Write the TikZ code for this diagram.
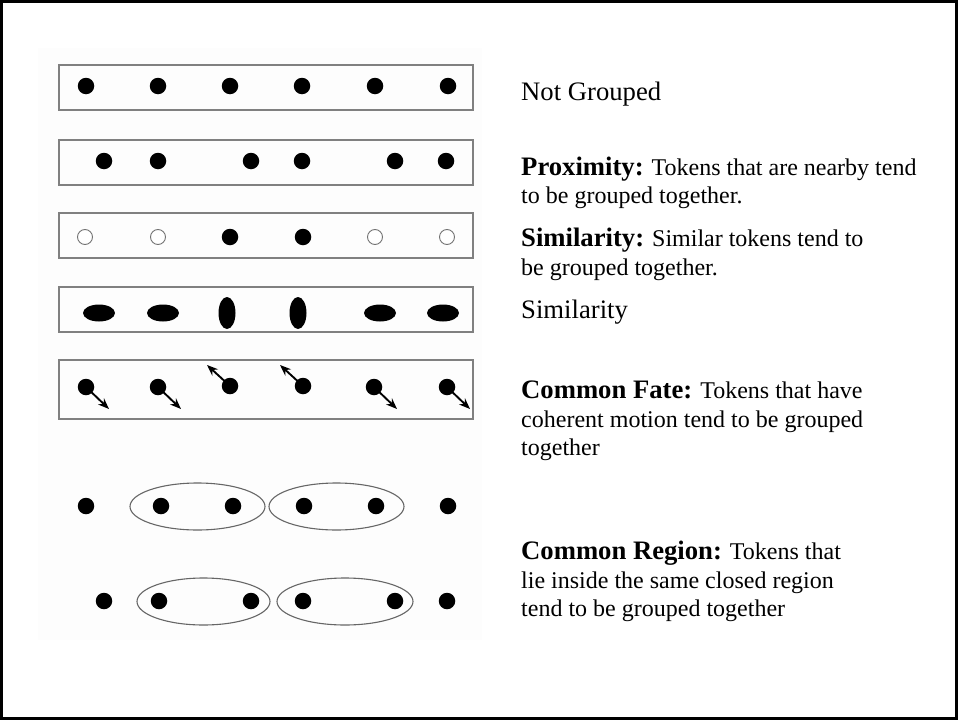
\documentclass[tikz,border=0pt]{standalone}
\usepackage{fontspec}
\setmainfont{Liberation Serif}
\usetikzlibrary{shapes.geometric,arrows.meta}
\begin{document}
\begin{tikzpicture}[x=1pt,y=-1pt,
  rowbox/.style={draw=black!50,line width=1.3pt},
  dotf/.style={circle,fill=black,inner sep=0pt,minimum size=16.5pt},
  doto/.style={circle,draw=black!55,line width=0.9pt,fill=white,inner sep=0pt,minimum size=15pt},
  hell/.style={ellipse,fill=black,inner sep=0pt,minimum width=32pt,minimum height=17pt},
  vell/.style={ellipse,fill=black,inner sep=0pt,minimum width=17pt,minimum height=32pt},
  region/.style={ellipse,draw=black!60,line width=1.1pt,inner sep=0pt},
  motion/.style={line width=1.9pt,-{Stealth[length=11pt,width=8.5pt]}},
  big/.style={anchor=base west,inner sep=0pt,font=\fontsize{26.67}{30}\selectfont},
  small/.style={anchor=base west,inner sep=0pt,font=\fontsize{24}{28}\selectfont}]
\useasboundingbox (0,0) rectangle (958,720);
\fill[white] (0,0) rectangle (958,720);
\fill[black!0.8] (38,48) rectangle (482,640);
\draw[line width=2.6pt] (1.3,1.3) rectangle (956.7,718.7);

% row boxes
\draw[rowbox] (59,65) rectangle (473,110);
\draw[rowbox] (59,140) rectangle (473,185);
\draw[rowbox] (59,213) rectangle (473,258);
\draw[rowbox] (59,287) rectangle (473,332);
\draw[rowbox] (59,360) rectangle (473,419);

% row 1: not grouped
\foreach \x [count=\i] in {86,158,230,302,375,448}
  \node[dotf] (a\i) at (\x,86) {};
% row 2: proximity
\foreach \x [count=\i] in {104,158,251,302,395,446}
  \node[dotf] (b\i) at (\x,161) {};
% row 3: similarity (open / filled)
\node[doto] (c1) at (85,237) {};
\node[doto] (c2) at (158,237) {};
\node[dotf] (c3) at (230,237) {};
\node[dotf] (c4) at (303,237) {};
\node[doto] (c5) at (375,237) {};
\node[doto] (c6) at (447,237) {};
% row 4: similarity (shape)
\node[hell] (d1) at (99,313) {};
\node[hell] (d2) at (163,313) {};
\node[vell] (d3) at (227,313) {};
\node[vell] (d4) at (298,313) {};
\node[hell] (d5) at (380,313) {};
\node[hell] (d6) at (443,313) {};
% row 5: common fate
\node[dotf] (e1) at (86,387) {};
\node[dotf] (e2) at (158,387) {};
\node[dotf] (e3) at (230,386) {};
\node[dotf] (e4) at (303,386) {};
\node[dotf] (e5) at (374,387) {};
\node[dotf] (e6) at (447,387) {};
\coordinate (f1) at (109,409);
\coordinate (f2) at (181,409);
\coordinate (f3) at (207,365);
\coordinate (f4) at (280,365);
\coordinate (f5) at (397,409);
\coordinate (f6) at (470,409);
\foreach \i in {1,...,6} \draw[motion] (e\i.center) -- (f\i);

% row 6: common region
\node[region,minimum width=135pt,minimum height=47pt] (r1) at (197.5,506.5) {};
\node[region,minimum width=135pt,minimum height=47pt] (r2) at (336.5,506.5) {};
\foreach \x [count=\i] in {86,161,233,304,376,448}
  \node[dotf] (g\i) at (\x,506) {};
% row 7: common region
\node[region,minimum width=133pt,minimum height=47pt] (r3) at (203.5,601.5) {};
\node[region,minimum width=136pt,minimum height=47pt] (r4) at (345,601.5) {};
\foreach \x [count=\i] in {104,159,251,303,395,447}
  \node[dotf] (h\i) at (\x,601) {};

% texts
\node[big] (t1) at (521,100) {Not Grouped};
\node[small] (t2) at (521,175) {{\bfseries\fontsize{26.67}{30}\selectfont Proximity:} Tokens that are nearby tend};
\node[small] (t3) at (521,203) {to be grouped together.};
\node[small] (t4) at (521,246) {{\bfseries\fontsize{26.67}{30}\selectfont Similarity:} Similar tokens tend to};
\node[small] (t5) at (521,275) {be grouped together.};
\node[big] (t6) at (521,318) {Similarity};
\node[small] (t7) at (521,398) {{\bfseries\fontsize{26.67}{30}\selectfont Common Fate:} Tokens that have};
\node[small] (t8) at (521,427) {coherent motion tend to be grouped};
\node[small] (t9) at (521,455) {together};
\node[small] (t10) at (521,559) {{\bfseries\fontsize{26.67}{30}\selectfont Common Region:} Tokens that};
\node[small] (t11) at (521,588) {lie inside the same closed region};
\node[small] (t12) at (521,616) {tend to be grouped together};
\end{tikzpicture}
\end{document}
